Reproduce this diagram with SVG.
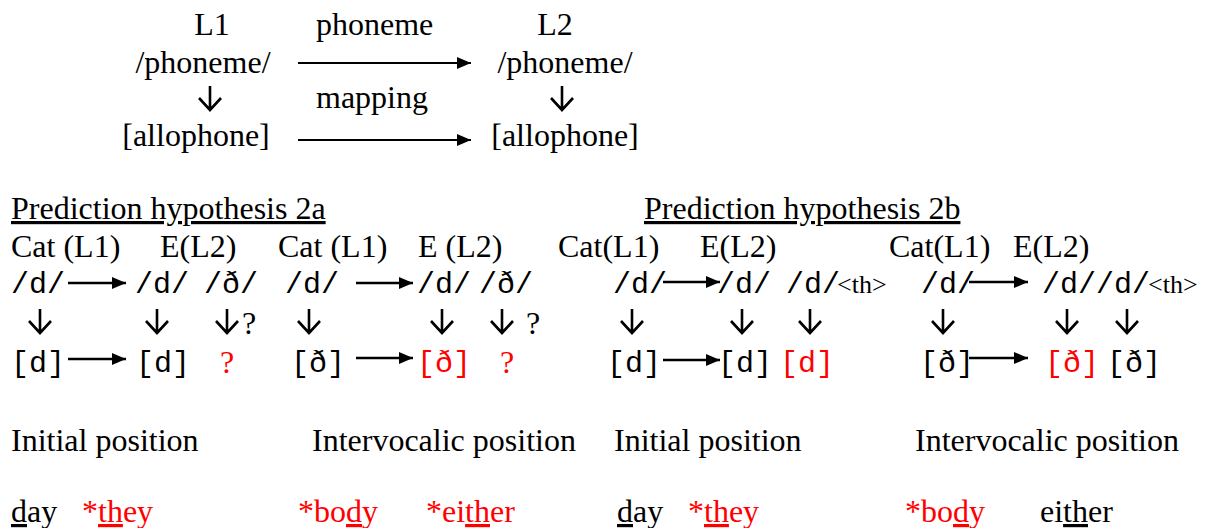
<svg xmlns="http://www.w3.org/2000/svg" xmlns:xlink="http://www.w3.org/1999/xlink" width="1214" height="528" viewBox="0 0 1214 528">
<style>
.t{font-family:"Liberation Serif","Times New Roman",serif;font-size:32px;fill:#000}
.m{font-family:"Liberation Mono","Courier New",monospace;font-size:30px;fill:#000}
.s{font-family:"Liberation Serif","Times New Roman",serif;font-size:26px;fill:#000}
.r{fill:#ff0000}
.u{text-decoration:underline}
.ar{stroke:#000;stroke-width:2.6;fill:none}
.dn{stroke:#000;stroke-width:2.6;fill:none;stroke-linejoin:miter}
</style>
<defs>
<marker id="h" markerUnits="userSpaceOnUse" markerWidth="16" markerHeight="14" refX="14" refY="7" orient="auto">
<path d="M0,1 L14,7 L0,13 Z" fill="#000"/>
</marker>
<path id="down" class="dn" d="M0,0 V24 M-11,12 L0,24 L11,12"/>
</defs>
<rect width="1214" height="528" fill="#fff"/>

<g id="connectors">
<line class="ar" x1="298" y1="63" x2="471" y2="63" marker-end="url(#h)" style="stroke-width:2"/>
<line class="ar" x1="298" y1="140" x2="471" y2="140" marker-end="url(#h)" style="stroke-width:2"/>
<use xlink:href="#down" x="210" y="86"/>
<use xlink:href="#down" x="562" y="86"/>

<line class="ar" x1="68" y1="283" x2="126" y2="283" marker-end="url(#h)"/>
<line class="ar" x1="68" y1="359" x2="126" y2="359" marker-end="url(#h)"/>
<line class="ar" x1="356" y1="283" x2="413" y2="283" marker-end="url(#h)"/>
<line class="ar" x1="356" y1="358" x2="413" y2="358" marker-end="url(#h)"/>
<line class="ar" x1="663" y1="282" x2="720" y2="282" marker-end="url(#h)"/>
<line class="ar" x1="663" y1="360" x2="720" y2="360" marker-end="url(#h)"/>
<line class="ar" x1="969" y1="282" x2="1028" y2="282" marker-end="url(#h)"/>
<line class="ar" x1="969" y1="358" x2="1028" y2="358" marker-end="url(#h)"/>

<use xlink:href="#down" x="40" y="309"/>
<use xlink:href="#down" x="157" y="309"/>
<use xlink:href="#down" x="227" y="309"/>
<use xlink:href="#down" x="309" y="309"/>
<use xlink:href="#down" x="442" y="309"/>
<use xlink:href="#down" x="502" y="309"/>
<use xlink:href="#down" x="632" y="309"/>
<use xlink:href="#down" x="742" y="309"/>
<use xlink:href="#down" x="810" y="309"/>
<use xlink:href="#down" x="943" y="309"/>
<use xlink:href="#down" x="1067" y="309"/>
<use xlink:href="#down" x="1127" y="309"/>
</g>

<g id="top-L1">
<text class="t" x="212" y="35" text-anchor="middle">L1</text>
<text class="t" x="203" y="73" text-anchor="middle">/phoneme/</text>
<text class="t" x="196" y="146" text-anchor="middle">[allophone]</text>
</g>
<g id="top-label">
<text class="t" x="316" y="35">phoneme</text>
<text class="t" x="316" y="108">mapping</text>
</g>
<g id="top-L2">
<text class="t" x="555" y="35" text-anchor="middle">L2</text>
<text class="t" x="565" y="73" text-anchor="middle">/phoneme/</text>
<text class="t" x="565" y="146" text-anchor="middle">[allophone]</text>
</g>

<g id="hyp2a">
<text class="t u" x="11" y="219">Prediction hypothesis 2a</text>
<text class="t" x="11" y="257">Cat (L1)</text>
<text class="t" x="160" y="257">E(L2)</text>
<text class="t" x="278" y="257">Cat (L1)</text>
<text class="t" x="418" y="257">E (L2)</text>
<text class="m" x="38" y="293" text-anchor="middle">/d/</text>
<text class="m" x="162" y="293" text-anchor="middle">/d/</text>
<text class="m" x="231" y="293" text-anchor="middle">/ð/</text>
<text class="m" x="312" y="293" text-anchor="middle">/d/</text>
<text class="m" x="444" y="293" text-anchor="middle">/d/</text>
<text class="m" x="506" y="293" text-anchor="middle">/ð/</text>
<text class="t" x="242" y="334">?</text>
<text class="t" x="526" y="334">?</text>
<text class="m" x="38" y="372" text-anchor="middle">[d]</text>
<text class="m" x="163" y="372" text-anchor="middle">[d]</text>
<text class="t r" x="227" y="373" text-anchor="middle">?</text>
<text class="m" x="318" y="372" text-anchor="middle">[ð]</text>
<text class="m r" x="444" y="372" text-anchor="middle">[ð]</text>
<text class="t r" x="507" y="373" text-anchor="middle">?</text>
<text class="t" x="11" y="451">Initial position</text>
<text class="t" x="312" y="451">Intervocalic position</text>
<text class="t" x="11" y="522"><tspan class="u">d</tspan>ay</text>
<text class="t r" x="82" y="522">*<tspan class="u">th</tspan>ey</text>
<text class="t r" x="298" y="522">*bo<tspan class="u">d</tspan>y</text>
<text class="t r" x="426" y="522">*ei<tspan class="u">th</tspan>er</text>
</g>

<g id="hyp2b">
<text class="t u" x="644" y="219">Prediction hypothesis 2b</text>
<text class="t" x="558" y="257">Cat(L1)</text>
<text class="t" x="700" y="257">E(L2)</text>
<text class="t" x="889" y="257">Cat(L1)</text>
<text class="t" x="1013" y="257">E(L2)</text>
<text class="m" x="640" y="293" text-anchor="middle">/d/</text>
<text class="m" x="744" y="293" text-anchor="middle">/d/</text>
<text class="m" x="813" y="293" text-anchor="middle">/d/</text>
<text class="s" x="837" y="293">&lt;th&gt;</text>
<text class="m" x="948" y="293" text-anchor="middle">/d/</text>
<text class="m" x="1096" y="293" text-anchor="middle">/d//d/</text>
<text class="s" x="1148" y="293">&lt;th&gt;</text>
<text class="m" x="634" y="372" text-anchor="middle">[d]</text>
<text class="m" x="745" y="372" text-anchor="middle">[d]</text>
<text class="m r" x="807" y="372" text-anchor="middle">[d]</text>
<text class="m" x="947" y="372" text-anchor="middle">[ð]</text>
<text class="m r" x="1072" y="372" text-anchor="middle">[ð]</text>
<text class="m" x="1134" y="372" text-anchor="middle">[ð]</text>
<text class="t" x="614" y="451">Initial position</text>
<text class="t" x="915" y="451">Intervocalic position</text>
<text class="t" x="617" y="522"><tspan class="u">d</tspan>ay</text>
<text class="t r" x="688" y="522">*<tspan class="u">th</tspan>ey</text>
<text class="t r" x="905" y="522">*bo<tspan class="u">d</tspan>y</text>
<text class="t" x="1040" y="522">ei<tspan class="u">th</tspan>er</text>
</g>
</svg>
